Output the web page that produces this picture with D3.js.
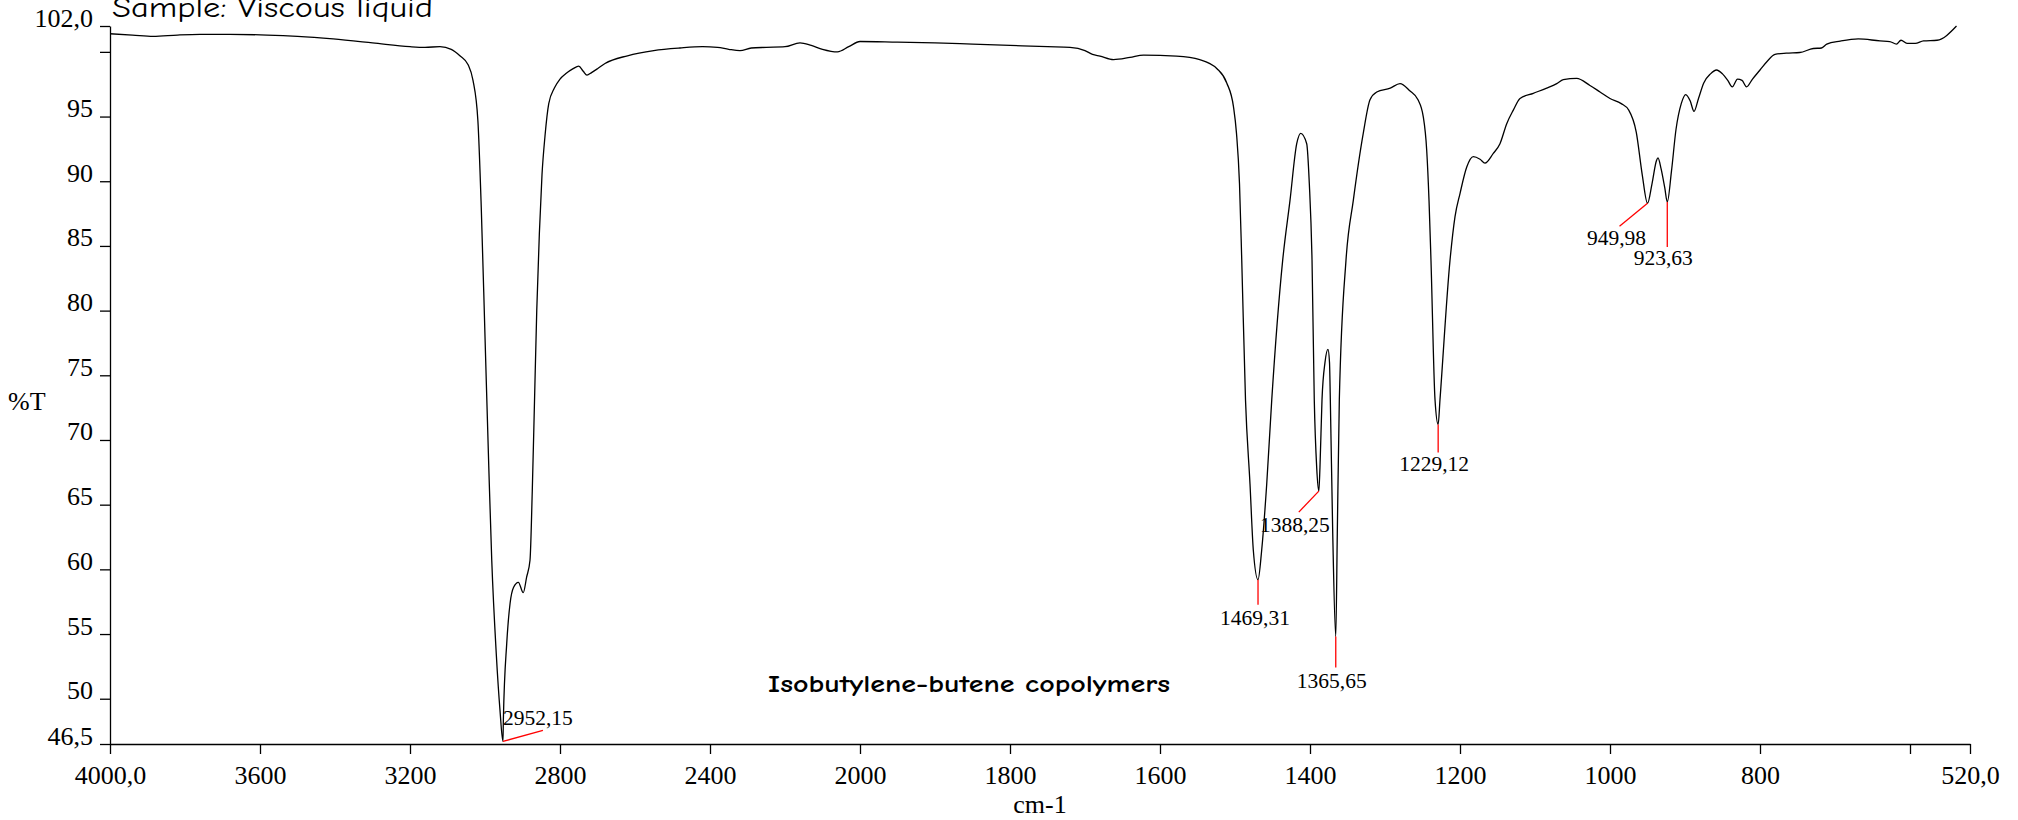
<!DOCTYPE html>
<html>
<head>
<meta charset="utf-8">
<script src="https://cdn.jsdelivr.net/npm/d3@7"></script>
<style>
  body { margin: 0; background: #fff; }
  .axis text { font-family: "Liberation Serif", "Times New Roman", serif; font-size: 26px; fill: #000; }
  .axis path, .axis line { stroke: #000; stroke-width: 1.3; }
</style>
</head>
<body>
<div class="canvas"></div>
<script>
// spectrum (cm-1, %T)
const wavenumber = [
  4000, 3940, 3885, 3820, 3760, 3680, 3581, 3500, 3405, 3300, 3200, 3160, 3120, 3090, 3067, 3045,
  3032, 3019, 3010, 3000, 2990, 2982, 2970, 2960, 2952.15, 2951, 2942, 2933, 2924, 2911, 2898, 2889,
  2880, 2874, 2868, 2862, 2855, 2848, 2840, 2830, 2815, 2800, 2785, 2765, 2750, 2738, 2728, 2716,
  2700, 2680, 2620, 2550, 2480, 2420, 2380, 2350, 2320, 2290, 2250, 2200, 2160, 2130, 2100, 2060,
  2030, 2000, 1950, 1900, 1850, 1800, 1750, 1720, 1700, 1690, 1680, 1662, 1640, 1622, 1578, 1547,
  1524, 1511, 1502, 1498, 1494, 1491, 1486, 1480, 1475.6, 1469.31, 1464.4, 1457.7, 1451, 1436.4, 1426.7, 1417.7,
  1412.4, 1404.4, 1400.9, 1397.3, 1394.3, 1391.1, 1388.25, 1386.7, 1384, 1380, 1376, 1374, 1372.9, 1369.7, 1365.65, 1363.6,
  1360.9, 1352, 1342.3, 1329, 1320, 1311, 1293, 1280, 1267, 1256, 1249, 1244.4, 1241.3, 1238.7, 1233.3, 1229.12,
  1226.7, 1213.3, 1206.7, 1200, 1191, 1182.3, 1173.3, 1166.7, 1155.6, 1146.7, 1137.7, 1128.9, 1120, 1102.3, 1084.4, 1071,
  1062.3, 1044.4, 1026.7, 1013.3, 1000, 985, 975, 965, 957, 949.98, 944, 938, 936, 932, 927, 923.63,
  918, 912, 905, 899, 893, 888, 882, 875, 866, 858, 850, 843, 837, 830, 824, 818,
  810, 800, 790, 780, 765, 747, 729, 718, 711, 693, 669, 640, 627, 618, 612, 604,
  593, 582, 564, 538
];
const transmittance = [
  101.4, 101.3, 101.2, 101.3, 101.35, 101.35, 101.3, 101.2, 101.0, 100.7, 100.4, 100.35, 100.4, 100.2, 99.7, 99.0,
  97.8, 94.7, 88.0, 78.0, 68.0, 60.7, 53.5, 49.1, 46.7, 48.4, 54.3, 57.4, 58.6, 59.0, 58.2, 59.4,
  60.7, 66.0, 73.0, 80.0, 86.0, 90.5, 93.5, 96.0, 97.2, 97.9, 98.3, 98.7, 98.9, 98.5, 98.2, 98.4,
  98.7, 99.1, 99.7, 100.1, 100.3, 100.4, 100.35, 100.2, 100.1, 100.3, 100.35, 100.4, 100.7, 100.5, 100.2, 100.0,
  100.4, 100.8, 100.75, 100.7, 100.6, 100.5, 100.4, 100.35, 100.1, 99.8, 99.67, 99.4, 99.57, 99.75, 99.67, 99.4,
  98.7, 97.6, 95.75, 93.7, 89.8, 83.9, 73.1, 66.6, 61.5, 59.2, 61.5, 66.6, 73.1, 83.9, 88.5, 92.9,
  93.7, 92.9, 89.8, 83.9, 73.1, 67.9, 66.05, 67.9, 73.1, 76.0, 77.0, 76.0, 73.1, 62.8, 54.8, 62.8,
  73.1, 83.9, 88.5, 93.7, 96.3, 96.9, 97.2, 97.55, 97.0, 96.3, 95.0, 92.4, 88.5, 83.9, 73.1, 71.2,
  73.1, 83.9, 87.25, 89.05, 91.1, 91.9, 91.7, 91.4, 92.15, 92.9, 94.45, 95.5, 96.4, 96.8, 97.2, 97.55,
  97.85, 97.95, 97.4, 96.9, 96.4, 96.0, 95.5, 93.8, 90.5, 88.3, 89.8, 91.6, 91.8, 91.0, 89.5, 88.4,
  90.8, 94.0, 96.0, 96.7, 96.2, 95.4, 96.4, 97.6, 98.3, 98.6, 98.3, 97.8, 97.3, 97.9, 97.8, 97.3,
  97.9, 98.6, 99.3, 99.8, 99.9, 99.95, 100.26, 100.3, 100.6, 100.83, 101.0, 100.85, 100.8, 100.6, 100.9, 100.65,
  100.65, 100.85, 100.9, 102.0
];

// picked peaks
const peakPositions = [2952.15, 1469.31, 1388.25, 1365.65, 1229.12, 949.98, 923.63];
const peakValues = [46.7, 59.2, 66.05, 54.8, 71.2, 88.3, 88.4];
const peakLabels = ["2952,15", "1469,31", "1388,25", "1365,65", "1229,12", "949,98", "923,63"];

// axes
const xTicks = [4000, 3600, 3200, 2800, 2400, 2000, 1800, 1600, 1400, 1200, 1000, 800, 600, 520];
const xTickLabels = ["4000,0", "3600", "3200", "2800", "2400", "2000", "1800", "1600", "1400", "1200", "1000", "800", "", "520,0"];
const yTicks = [102, 100, 95, 90, 85, 80, 75, 70, 65, 60, 55, 50, 46.5];
const yTickLabels = ["102,0", "", "95", "90", "85", "80", "75", "70", "65", "60", "55", "50", "46,5"];

// callout placement relative to the peak (line end, text anchor)
const calloutLayout = [
  { lx: 40, ly: -11, tx: 0, ty: -16, anchor: "start" },
  { lx: 0, ly: 25, tx: -3, ty: 45, anchor: "middle" },
  { lx: -20, ly: 21, tx: -24, ty: 41, anchor: "middle" },
  { lx: 0, ly: 31, tx: -4, ty: 51, anchor: "middle" },
  { lx: 0, ly: 28, tx: -4, ty: 47, anchor: "middle" },
  { lx: -28, ly: 23, tx: -31, ty: 42, anchor: "middle" },
  { lx: 0, ly: 45, tx: -4, ty: 63, anchor: "middle" }
];

const svg = d3.select(".canvas").append("svg")
    .attr("width", 2018)
    .attr("height", 820);

// IR convention: 2x expansion below 2000 cm-1
const x = d3.scaleLinear().domain([4000, 2000, 520]).range([110, 860, 1970]);
const y = d3.scaleLinear().domain([46.5, 102]).range([744, 26]);

const xAxis = svg.append("g")
    .attr("class", "axis")
    .attr("transform", `translate(0,${y(46.5)})`)
    .call(d3.axisBottom(x)
        .tickValues(xTicks)
        .tickFormat((d, i) => xTickLabels[i])
        .tickSize(10)
        .tickSizeOuter(0)
        .tickPadding(12));

const yAxis = svg.append("g")
    .attr("class", "axis")
    .attr("transform", `translate(${x(4000)},0)`)
    .call(d3.axisLeft(y)
        .tickValues(yTicks)
        .tickFormat((d, i) => yTickLabels[i])
        .tickSize(10)
        .tickSizeOuter(0)
        .tickPadding(7));
yAxis.selectAll("text").attr("dy", "0");

svg.append("text")
    .attr("x", 8).attr("y", 410)
    .attr("font-family", "Liberation Serif, Times New Roman, serif")
    .attr("font-size", 26)
    .text("%T");

svg.append("text")
    .attr("x", (x(4000) + x(520)) / 2).attr("y", 813)
    .attr("text-anchor", "middle")
    .attr("font-family", "Liberation Serif, Times New Roman, serif")
    .attr("font-size", 26)
    .text("cm-1");

// the reference crops this title at the top edge
svg.append("text")
    .attr("x", 112).attr("y", 17)
    .attr("font-family", "Comic Sans MS, Comic Neue, Noto Sans, sans-serif")
    .attr("font-size", 28)
    .attr("textLength", 321).attr("lengthAdjust", "spacingAndGlyphs")
    .text("Sample: Viscous liquid");

svg.append("text")
    .attr("x", 768).attr("y", 692)
    .attr("font-family", "Comic Sans MS, Comic Neue, Noto Sans, sans-serif")
    .attr("font-weight", "bold")
    .attr("font-size", 24)
    .attr("textLength", 402).attr("lengthAdjust", "spacingAndGlyphs")
    .text("Isobutylene-butene copolymers");

const spectrum = d3.zip(wavenumber, transmittance);

svg.append("path")
    .datum(spectrum)
    .attr("fill", "none")
    .attr("stroke", "#000")
    .attr("stroke-width", 1.3)
    .attr("stroke-linejoin", "round")
    .attr("d", d3.line()
        .x(d => x(d[0]))
        .y(d => y(d[1]))
        .curve(d3.curveMonotoneX));

const peaks = peakPositions.map((p, i) => ({ p, v: peakValues[i], label: peakLabels[i], lay: calloutLayout[i] }));

const callout = svg.selectAll(".peak").data(peaks).enter().append("g")
    .attr("class", "peak")
    .attr("transform", d => `translate(${x(d.p)},${y(d.v)})`);

callout.append("line")
    .attr("x1", 0).attr("y1", 0)
    .attr("x2", d => d.lay.lx).attr("y2", d => d.lay.ly)
    .attr("stroke", "#ff0000")
    .attr("stroke-width", 1.3);

callout.append("text")
    .attr("x", d => d.lay.tx).attr("y", d => d.lay.ty)
    .attr("text-anchor", d => d.lay.anchor)
    .attr("font-family", "Liberation Serif, Times New Roman, serif")
    .attr("font-size", 21.5)
    .text(d => d.label);
</script>
</body>
</html>
